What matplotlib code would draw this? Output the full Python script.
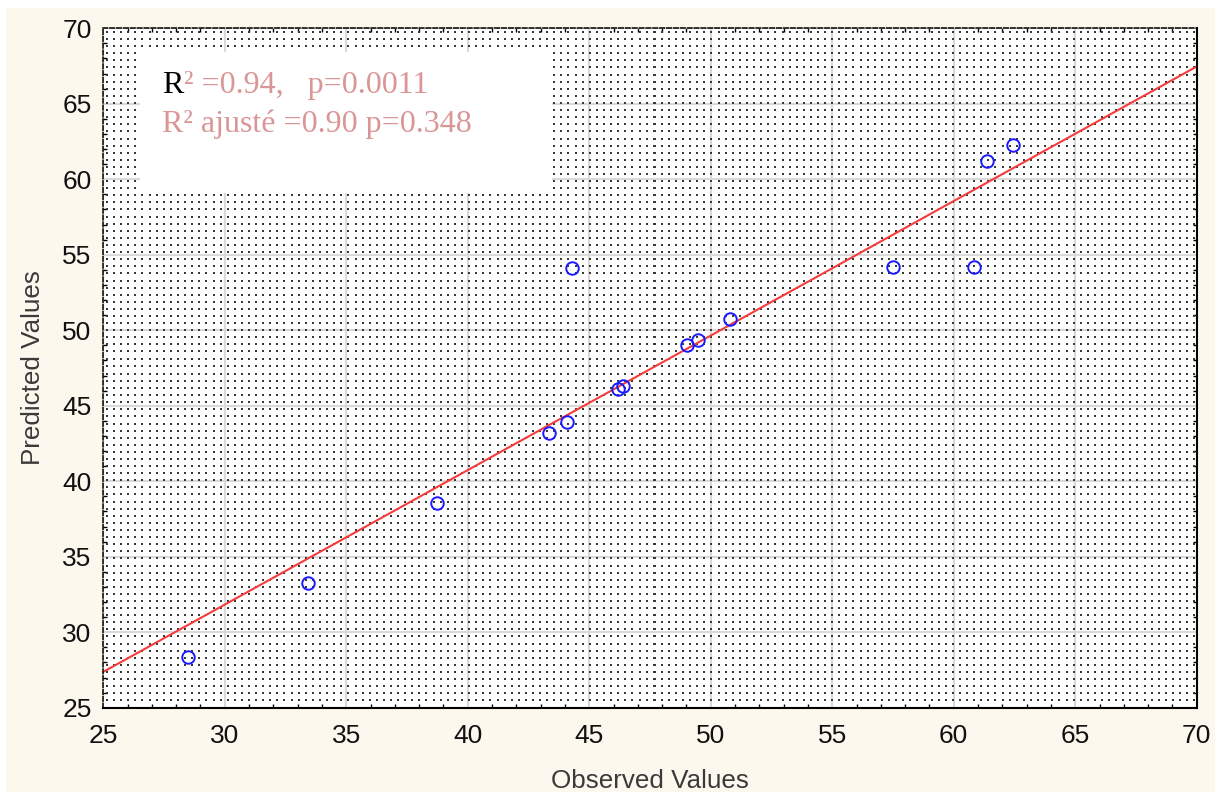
import numpy as np
import matplotlib
matplotlib.use("Agg")
import matplotlib.pyplot as plt
from matplotlib.patches import Rectangle
from matplotlib.ticker import MultipleLocator

# ---------------- data ----------------
observed = [28.50, 33.42, 38.72, 43.35, 44.07, 44.29, 46.18, 46.39,
            49.02, 49.47, 50.79, 57.51, 60.85, 61.36, 62.45]
predicted = [28.38, 33.26, 38.54, 43.17, 43.94, 54.12, 46.11, 46.31,
             49.02, 49.35, 50.75, 54.17, 54.17, 61.21, 62.27]
x_ticks = [25, 30, 35, 40, 45, 50, 55, 60, 65, 70]
y_ticks = [25, 30, 35, 40, 45, 50, 55, 60, 65, 70]
x_label = "Observed Values"
y_label = "Predicted Values"
stat_r = "R"
stat_line1_rest = "² =0.94,   p=0.0011"
stat_line2 = "R² ajusté =0.90 p=0.348"

plt.rcParams['font.family'] = ['Liberation Sans', 'DejaVu Sans']

W_PX, H_PX = 1215, 792
fig = plt.figure(figsize=(W_PX / 100, H_PX / 100), dpi=100, facecolor='white')
fig.add_artist(Rectangle((6 / W_PX, 0), 1, (H_PX - 8) / H_PX, transform=fig.transFigure,
                         facecolor='#fdf8ee', edgecolor='none', zorder=-10))

ax_l, ax_r, ax_t, ax_b = 103.3, 1196.7, 28.3, 707.7
ax = fig.add_axes([ax_l / W_PX, (H_PX - ax_b) / H_PX, (ax_r - ax_l) / W_PX, (ax_b - ax_t) / H_PX])
ax.set_facecolor('white')

# dotted background texture
Wa, Ha = int(round(ax_r - ax_l)), int(round(ax_b - ax_t))
img = np.zeros((Ha, Wa, 4))
step = 7.1
cols = np.round(np.arange(3, Wa - 3, step)).astype(int)
rows = np.round(np.arange(3, Ha - 3, step)).astype(int)
for dr in (0, 1):
    for dc in (0, 1):
        img[np.ix_(rows + dr, cols + dc)] = (0.22, 0.22, 0.22, 1.0)
ax.imshow(img, extent=(0, 1, 0, 1), transform=ax.transAxes, aspect='auto',
          interpolation='nearest', zorder=0.6)

ax.set_axisbelow(True)
ax.grid(True, which='major', color='#d9d9d9', linewidth=1.5, zorder=0.5)

# white stats box
ax.add_patch(Rectangle((0.0336, 0.7576), 0.3768, 0.2075, transform=ax.transAxes,
                       facecolor='white', edgecolor='none', zorder=1.5))

# regression line and points
xs = np.array([x_ticks[0], x_ticks[-1]], dtype=float)
coef = np.polyfit(observed, predicted, 1)
ax.plot(xs, np.polyval(coef, xs), color='#f53b3b', lw=1.5, zorder=2)
ax.plot(observed, predicted, 'o', mfc='none', mec='#1a1aff', ms=9, mew=1.4, zorder=3)

ax.set_xlim(x_ticks[0], x_ticks[-1])
ax.set_ylim(y_ticks[0], y_ticks[-1])
ax.set_xticks(x_ticks)
ax.set_yticks(y_ticks)
ax.xaxis.set_minor_locator(MultipleLocator(1))
ax.yaxis.set_minor_locator(MultipleLocator(1))
ax.tick_params(which='minor', direction='in', length=3, width=1, top=True, right=True,
               color='black')
ax.tick_params(which='major', length=0, labelsize=19, labelcolor='#111111')
ax.tick_params(axis='x', which='major', pad=12)
ax.tick_params(axis='y', which='major', pad=8.4)

for side in ('left', 'top'):
    ax.spines[side].set_linestyle((0, (3, 1.5)))
    ax.spines[side].set_linewidth(1.1)
for side in ('bottom', 'right'):
    ax.spines[side].set_linewidth(1.5)
for s in ax.spines.values():
    s.set_color('black')
    s.set_zorder(5)

ax.set_xlabel(x_label, fontsize=18.7, color='#3a3a3a')
ax.set_ylabel(y_label, fontsize=18.7, color='#3a3a3a')
ax.xaxis.set_label_coords(0.5, (ax_b - 781) / (ax_b - ax_t))
ax.yaxis.set_label_coords((33 - ax_l) / (ax_r - ax_l), 0.5)
ax.xaxis.label.set_va('center')
ax.yaxis.label.set_va('center')

pink = '#da9696'
t1 = ax.text(0.054, 0.9048, stat_r, transform=ax.transAxes, fontsize=23,
             family='Liberation Serif', color='black', va='baseline', ha='left', zorder=4)
ax.annotate(stat_line1_rest, xy=(1, 0), xycoords=t1, va='bottom', ha='left', fontsize=23,
            family='Liberation Serif', color=pink, zorder=4)
ax.text(0.054, 0.8478, stat_line2, transform=ax.transAxes, fontsize=23,
        family='Liberation Serif', color=pink, va='baseline', ha='left', zorder=4)

fig.savefig('out.png', dpi=100, facecolor=fig.get_facecolor())
